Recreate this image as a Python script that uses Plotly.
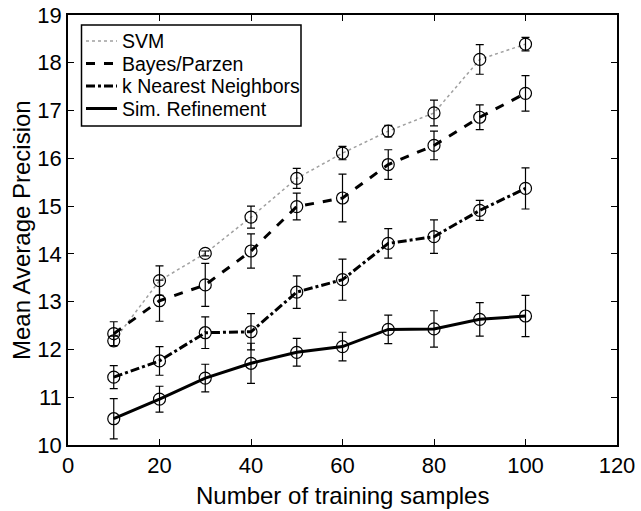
import plotly.graph_objects as go

x = [10, 20, 30, 40, 50, 60, 70, 80, 90, 100]

svm = [12.18, 13.44, 14.01, 14.77, 15.58, 16.11, 16.57, 16.95, 18.07, 18.39]
svm_err = [0.1, 0.31, 0.05, 0.23, 0.21, 0.14, 0.12, 0.27, 0.31, 0.14]

bayes = [12.33, 13.02, 13.35, 14.06, 14.99, 15.17, 15.87, 16.27, 16.86, 17.36]
bayes_err = [0.25, 0.43, 0.45, 0.36, 0.28, 0.5, 0.31, 0.3, 0.26, 0.37]

knn = [11.42, 11.76, 12.35, 12.37, 13.2, 13.46, 14.22, 14.36, 14.91, 15.37]
knn_err = [0.24, 0.3, 0.33, 0.38, 0.34, 0.43, 0.31, 0.35, 0.21, 0.43]

simref = [10.55, 10.96, 11.4, 11.71, 11.94, 12.06, 12.42, 12.43, 12.63, 12.7]
simref_err = [0.42, 0.27, 0.29, 0.42, 0.29, 0.3, 0.3, 0.38, 0.35, 0.43]

x_ticks = [0, 20, 40, 60, 80, 100, 120]
y_ticks = [10, 11, 12, 13, 14, 15, 16, 17, 18, 19]

names = ["SVM", "Bayes/Parzen", "k Nearest Neighbors", "Sim. Refinement"]
values = [svm, bayes, knn, simref]
errors = [svm_err, bayes_err, knn_err, simref_err]
colors = ["#a0a0a0", "black", "black", "black"]
widths = [1.5, 3, 3, 3]
dashes = ["dot", "dash", "dashdot", "solid"]

FONT = "Liberation Sans, Arial, Helvetica, sans-serif"
W, H = 641, 511
ML, MR, MT, MB = 68, 24, 15, 66
PW, PH = W - ML - MR, H - MT - MB


def px(X):
    return (X - ML) / PW


def py(Y):
    return (H - MB - Y) / PH


fig = go.Figure()
for name, y, e, col, w, dash in zip(names, values, errors, colors, widths, dashes):
    fig.add_trace(go.Scatter(
        x=x, y=y, mode="lines", name=name,
        line=dict(color=col, width=w, dash=dash),
        showlegend=False,
    ))
for name, y, e in zip(names, values, errors):
    fig.add_trace(go.Scatter(
        x=x, y=y, mode="markers", name=name, showlegend=False,
        marker=dict(symbol="circle-open", size=12, color="black", line=dict(width=1.2)),
        error_y=dict(type="data", array=e, visible=True, color="black", thickness=1.2, width=4),
    ))

# legend drawn as box + sample lines + text labels
shapes = [dict(type="rect", xref="paper", yref="paper",
               x0=px(81.5), x1=px(301), y0=py(126), y1=py(25),
               line=dict(color="black", width=1.5), fillcolor="white", layer="above")]
annotations = []
row_y = [41, 63.5, 86, 108.5]
for name, col, w, dash, ry in zip(names, colors, widths, dashes, row_y):
    shapes.append(dict(type="line", xref="paper", yref="paper",
                       x0=px(86), x1=px(117), y0=py(ry), y1=py(ry),
                       line=dict(color=col, width=w, dash=dash), layer="above"))
    annotations.append(dict(text=name, xref="paper", yref="paper",
                            x=px(120.5), y=py(ry), xanchor="left", yanchor="middle",
                            showarrow=False, font=dict(size=19.5), borderpad=0))

annotations += [
    dict(text="Number of training samples", xref="paper", yref="paper",
         x=0.5, y=0, xanchor="center", yanchor="middle", yshift=-50,
         showarrow=False, font=dict(size=24)),
    dict(text="Mean Average Precision", xref="paper", yref="paper",
         x=0, y=0.5, xanchor="center", yanchor="middle", xshift=-47,
         textangle=-90, showarrow=False, font=dict(size=24)),
]

fig.update_layout(
    width=W, height=H,
    margin=dict(l=ML, r=MR, t=MT, b=MB),
    paper_bgcolor="white", plot_bgcolor="white",
    font=dict(family=FONT, size=22, color="black"),
    showlegend=False,
    xaxis=dict(
        range=[0, 120], tickvals=x_ticks, automargin=False,
        showgrid=False, zeroline=False, showline=True, linecolor="black", linewidth=1.5,
        mirror="ticks", ticks="inside", ticklen=6, tickcolor="black",
        tickfont=dict(size=22),
    ),
    yaxis=dict(
        range=[10, 19], tickvals=y_ticks, automargin=False,
        showgrid=False, zeroline=False, showline=True, linecolor="black", linewidth=1.5,
        mirror="ticks", ticks="inside", ticklen=6, tickcolor="black",
        tickfont=dict(size=22),
    ),
    shapes=shapes,
    annotations=annotations,
)

fig.write_html(
    "out.html",
    config={"displayModeBar": False},
    post_script="document.body.style.margin='0px';document.body.style.overflow='hidden';",
)
